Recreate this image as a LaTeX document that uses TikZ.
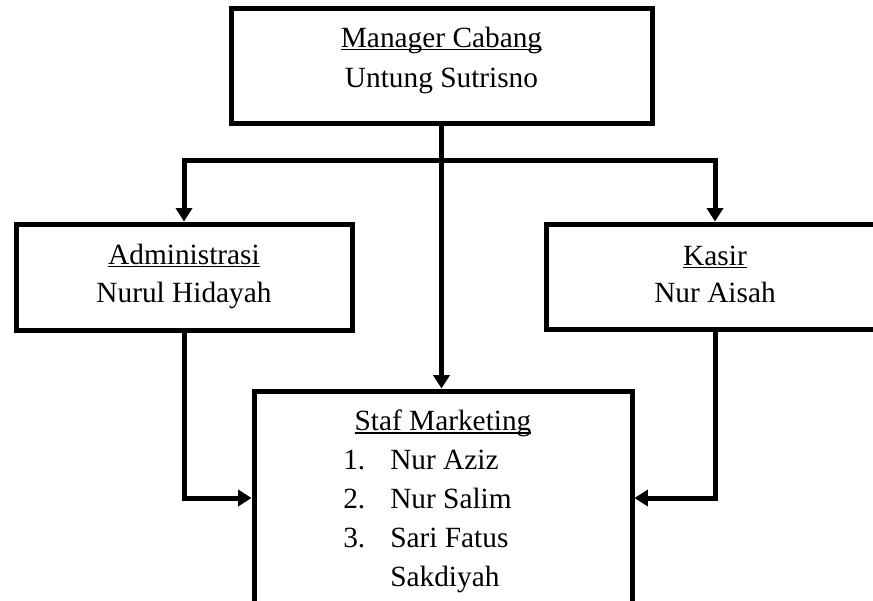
\documentclass[tikz,border=0pt]{standalone}
\usepackage{fontspec}
\setmainfont{Liberation Serif}
\usetikzlibrary{arrows.meta,calc}
\newsavebox\ulbox
\newcommand\myul[1]{\sbox\ulbox{#1}\rlap{\rule[-2.4pt]{\wd\ulbox}{1.1pt}}\usebox\ulbox}
\begin{document}
\begin{tikzpicture}[x=0.75pt,y=-0.75pt,
  box/.style={draw, line width=3.75pt, inner sep=0pt},
  txt/.style={font=\fontsize{22}{30}\selectfont, inner sep=0pt, anchor=base},
  lst/.style={txt, anchor=base west},
  conn/.style={line width=3.75pt},
  arr/.style={conn, -{Triangle[width=12pt,length=10pt]}}]
\useasboundingbox (0,0) rectangle (873,600);
\clip (0,0) rectangle (873,600);
% boxes
\node[box, minimum width=315.75pt, minimum height=86.25pt] (top) at (441.5,65.5) {};
\node[box, minimum width=252pt, minimum height=79.5pt] (adm) at (184,277) {};
\node[box, minimum width=253.5pt, minimum height=78.75pt] (kas) at (715,276.5) {};
\node[box, minimum width=283.5pt, minimum height=160.5pt] (staf) at (443,498) {};
% texts
\node[txt] (t1) at (441.5,47) {\myul{Manager Cabang}};
\node[txt] (t2) at (441.5,87) {Untung Sutrisno};
\node[txt] (a1) at (184,264) {\myul{Administrasi}};
\node[txt] (a2) at (184,302) {Nurul Hidayah};
\node[txt] (k1) at (715,265) {\myul{Kasir}};
\node[txt] (k2) at (715,302) {Nur Aisah};
\node[txt] (s0) at (443,430.5) {\myul{Staf Marketing}};
\node[lst] (n1) at (343,469) {1.};
\node[lst] (m1) at (390,469) {Nur Aziz};
\node[lst] (n2) at (343,508) {2.};
\node[lst] (m2) at (390,508) {Nur Salim};
\node[lst] (n3) at (343,547) {3.};
\node[lst] (m3) at (390,547) {Sari Fatus};
\node[lst] (m4) at (390,586) {Sakdiyah};
% connectors
\coordinate (j) at (441.5,160);
\draw[arr] (top.south) -- (top.south |- staf.north);
\draw[arr] (j) -| (adm.north);
\draw[arr] (j) -| (kas.north);
\draw[arr] (adm.south) |- (staf.west);
\draw[arr] (kas.south) |- (staf.east);
\end{tikzpicture}
\end{document}
